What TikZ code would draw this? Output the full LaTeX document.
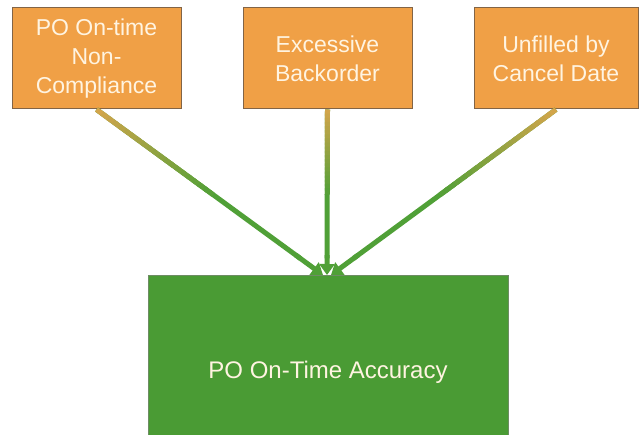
\documentclass[tikz,border=0pt]{standalone}
\usepackage{fontspec}
\setmainfont{Liberation Sans}
\usetikzlibrary{calc,arrows.meta}
\definecolor{boxorange}{RGB}{240,160,70}
\definecolor{boxedge}{RGB}{130,100,70}
\definecolor{boxgreen}{RGB}{74,155,52}
\definecolor{greenedge}{RGB}{110,140,100}
\definecolor{linegreen}{RGB}{80,160,55}
\definecolor{linetan}{RGB}{210,165,75}
\definecolor{txtlight}{RGB}{255,244,225}
\tikzset{
  causebox/.style={draw=boxedge, line width=1pt, fill=boxorange, text=txtlight,
    minimum height=101pt, align=center, inner sep=2pt,
    font=\fontsize{23}{29}\selectfont},
  resultbox/.style={draw=greenedge, line width=1pt, fill=boxgreen, text=txtlight,
    minimum width=360pt, minimum height=192pt, align=center,
    font=\fontsize{24}{29}\selectfont},
  tip/.style={-{Triangle[length=11pt,width=15pt]}, draw=linegreen, line width=5pt}
}
\begin{document}
\begin{tikzpicture}[x=1pt,y=-1pt]
\clip (0,0) rectangle (639,435);
\fill[white] (0,0) rectangle (639,435);
\node[causebox, minimum width=169pt] (a) at (96.5,58.5) {PO On-time\\Non-\\Compliance};
\node[causebox, minimum width=169pt] (b) at (327.5,58.5) {Excessive\\Backorder};
\node[causebox, minimum width=164pt] (c) at (556,58.5) {Unfilled by\\Cancel Date};
\node[resultbox] (g) at (328,372) {PO On-Time Accuracy};
\coordinate (ta) at (323,275);
\coordinate (tb) at (327,275);
\coordinate (tc) at (331,275);
\foreach \s/\e in {a/ta,b/tb,c/tc}{
  \draw[line width=5pt, linegreen] (\s.south) -- ($(\s.south)!0.9!(\e)$);
  \foreach \i in {0,...,19}{
    \pgfmathsetmacro\ta{\i/40}
    \pgfmathsetmacro\tb{(\i+1.6)/40}
    \pgfmathtruncatemacro\p{min(100,\i*100/20)}
    \draw[line width=5pt, color=linegreen!\p!linetan] ($(\s.south)!\ta!(\e)$) -- ($(\s.south)!\tb!(\e)$);
  }
  \draw[tip] ($(\s.south)!0.88!(\e)$) -- (\e);
}
\end{tikzpicture}
\end{document}
